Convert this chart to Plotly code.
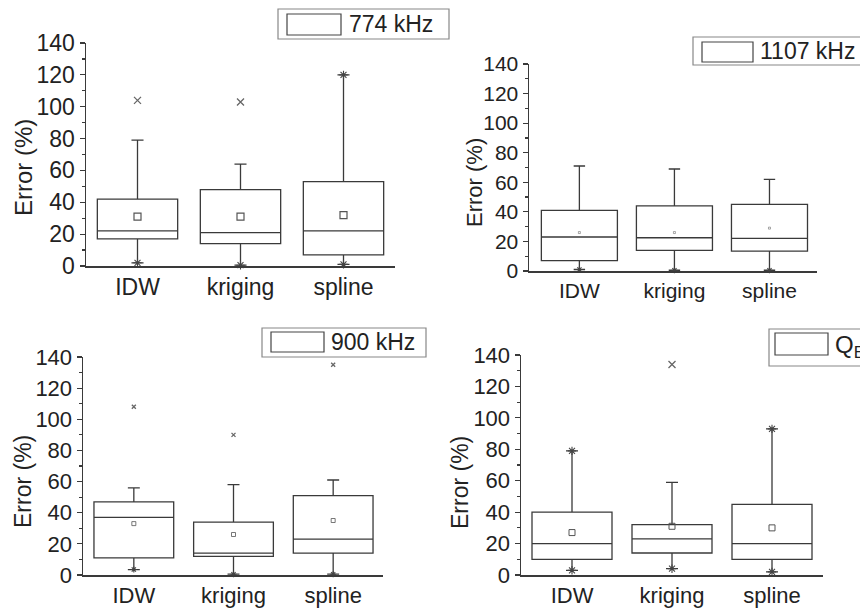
import plotly.graph_objects as go

W, H = 860, 609
FONT = "Liberation Sans, Arial, sans-serif"

categories = ["IDW", "kriging", "spline"]
cat_pos = [1, 2, 3]

# Panel 1: 774 kHz
p1_q1 = [17, 14, 7]
p1_med = [22, 21, 22]
p1_q3 = [42, 48, 53]
p1_lo = [2, 0.5, 1]
p1_hi = [79, 64, 120]
p1_mean = [31, 31, 32]
p1_out_x = [1, 2]
p1_out_y = [104, 103]

# Panel 2: 1107 kHz
p2_q1 = [7, 14, 13.5]
p2_med = [23, 22.5, 22]
p2_q3 = [41, 44, 45]
p2_lo = [1, 0.5, 0.5]
p2_hi = [71, 69, 62]
p2_mean = [26, 26, 29]
p2_out_x = []
p2_out_y = []

# Panel 3: 900 kHz
p3_q1 = [11, 12, 14]
p3_med = [37, 14, 23]
p3_q3 = [47, 34, 51]
p3_lo = [3.5, 0.5, 0.5]
p3_hi = [56, 58, 61]
p3_mean = [33, 26, 35]
p3_out_x = [1, 2, 3]
p3_out_y = [108, 90, 135]

# Panel 4: Q_E
p4_q1 = [10, 14, 10]
p4_med = [20, 23, 20]
p4_q3 = [40, 32, 45]
p4_lo = [3, 4, 2]
p4_hi = [79, 59, 93]
p4_mean = [27, 31, 30]
p4_out_x = [2]
p4_out_y = [134]

y_ticks = [0, 20, 40, 60, 80, 100, 120, 140]

def px(x):
    return x / W

def py(y):
    return 1 - y / H

panels = [
    dict(q1=p1_q1, med=p1_med, q3=p1_q3, lo=p1_lo, hi=p1_hi, mean=p1_mean,
         ox=p1_out_x, oy=p1_out_y, xd=(86, 395), yd=(43, 266), xr=[0.5, 3.5], bw=0.78,
         fs=23, tfs=24, mean_size=7, mean_w=1.2, out_size=7, star_size=7,
         star_ends=[(0, "lo"), (1, "lo"), (2, "hi"), (2, "lo")],
         title_xy=(23, 168), name="774 kHz",
         leg=dict(box=(278, 9, 449, 39), sw=(287, 14, 341, 35), tx=(347, 24), fs=23)),
    dict(q1=p2_q1, med=p2_med, q3=p2_q3, lo=p2_lo, hi=p2_hi, mean=p2_mean,
         ox=p2_out_x, oy=p2_out_y, xd=(529, 817), yd=(64, 271), xr=[0.47, 3.5], bw=0.8,
         fs=21, tfs=22, mean_size=2, mean_w=0.5, out_size=6, star_size=5,
         star_ends=[(0, "lo"), (1, "lo"), (2, "lo")],
         title_xy=(474, 182), name="1107 kHz",
         leg=dict(box=(693, 37, 875, 65), sw=(702, 42, 753, 62), tx=(758, 51), fs=23)),
    dict(q1=p3_q1, med=p3_med, q3=p3_q3, lo=p3_lo, hi=p3_hi, mean=p3_mean,
         ox=p3_out_x, oy=p3_out_y, xd=(83, 383), yd=(357, 575), xr=[0.49, 3.5], bw=0.8,
         fs=22, tfs=23, mean_size=4, mean_w=0.8, out_size=4, star_size=5,
         star_ends=[(0, "lo"), (1, "lo"), (2, "lo")],
         title_xy=(23, 482), name="900 kHz",
         leg=dict(box=(262, 328, 426, 357), sw=(271, 332, 324, 352), tx=(329, 342), fs=23)),
    dict(q1=p4_q1, med=p4_med, q3=p4_q3, lo=p4_lo, hi=p4_hi, mean=p4_mean,
         ox=p4_out_x, oy=p4_out_y, xd=(521, 823), yd=(355, 575), xr=[0.49, 3.51], bw=0.8,
         fs=22, tfs=23, mean_size=6, mean_w=1.0, out_size=7, star_size=7,
         star_ends=[(0, "hi"), (0, "lo"), (1, "lo"), (2, "hi"), (2, "lo")],
         title_xy=(460, 482), name="Q<sub>E</sub>",
         leg=dict(box=(769, 329, 880, 366), sw=(775, 333, 828, 355), tx=(833, 346), fs=24)),
]

fig = go.Figure()
shapes = []
annotations = []
LINE = "#3a3a3a"

for i, p in enumerate(panels, start=1):
    xa = "x" if i == 1 else f"x{i}"
    ya = "y" if i == 1 else f"y{i}"
    fig.add_trace(go.Box(
        x=cat_pos, q1=p["q1"], median=p["med"], q3=p["q3"],
        lowerfence=p["lo"], upperfence=p["hi"],
        width=p["bw"], whiskerwidth=0.15, boxpoints=False,
        fillcolor="white", line=dict(color=LINE, width=1.3),
        xaxis=xa, yaxis=ya, showlegend=False, hoverinfo="skip",
    ))
    fig.add_trace(go.Scatter(
        x=cat_pos, y=p["mean"], mode="markers",
        marker=dict(symbol="square-open", size=p["mean_size"], color="#555",
                    line=dict(width=p["mean_w"])),
        xaxis=xa, yaxis=ya, showlegend=False, cliponaxis=False,
    ))
    if p["ox"]:
        fig.add_trace(go.Scatter(
            x=p["ox"], y=p["oy"], mode="markers",
            marker=dict(symbol="x-thin-open", size=p["out_size"], color="#666",
                        line=dict(width=1.3, color="#666")),
            xaxis=xa, yaxis=ya, showlegend=False, cliponaxis=False,
        ))
    sx = [cat_pos[k] for k, _ in p["star_ends"]]
    sy = [p[w][k] for k, w in p["star_ends"]]
    fig.add_trace(go.Scatter(
        x=sx, y=sy, mode="markers",
        marker=dict(symbol="asterisk-open", size=p["star_size"], color="#444",
                    line=dict(width=1.1, color="#444")),
        xaxis=xa, yaxis=ya, showlegend=False, cliponaxis=False,
    ))

    xkey = "xaxis" if i == 1 else f"xaxis{i}"
    ykey = "yaxis" if i == 1 else f"yaxis{i}"
    fig.layout[xkey] = dict(
        domain=[px(p["xd"][0]), px(p["xd"][1])], anchor=ya, range=p["xr"],
        tickvals=cat_pos, ticktext=categories, ticks="", showgrid=False, zeroline=False,
        showline=True, linecolor=LINE, linewidth=1.5, automargin=False,
        tickfont=dict(family=FONT, size=p["fs"], color="#222"),
    )
    fig.layout[ykey] = dict(
        domain=[py(p["yd"][1]), py(p["yd"][0])], anchor=xa, range=[0, 140],
        tickvals=y_ticks, ticks="outside", ticklen=5, tickwidth=1.2, tickcolor=LINE,
        minor=dict(dtick=10, ticks="outside", ticklen=3, tickcolor=LINE),
        showgrid=False, zeroline=False, showline=True, linecolor=LINE, linewidth=1.5,
        automargin=False,
        tickfont=dict(family=FONT, size=p["fs"], color="#222"),
    )
    annotations.append(dict(
        x=px(p["title_xy"][0]), y=py(p["title_xy"][1]), xref="paper", yref="paper",
        xanchor="center", yanchor="middle",
        text="Error (%)", textangle=-90, showarrow=False,
        font=dict(family=FONT, size=p["tfs"], color="#222"),
    ))
    lg = p["leg"]
    b = lg["box"]
    shapes.append(dict(type="rect", xref="paper", yref="paper",
                       x0=px(b[0]), x1=px(b[2]), y0=py(b[3]), y1=py(b[1]),
                       line=dict(color="#888", width=1.2), fillcolor="white", layer="below"))
    s = lg["sw"]
    shapes.append(dict(type="rect", xref="paper", yref="paper",
                       x0=px(s[0]), x1=px(s[2]), y0=py(s[3]), y1=py(s[1]),
                       line=dict(color="#444", width=1.2), fillcolor="white"))
    annotations.append(dict(
        x=px(lg["tx"][0]), y=py(lg["tx"][1]), xref="paper", yref="paper",
        xanchor="left", yanchor="middle", text=p["name"], showarrow=False,
        font=dict(family=FONT, size=lg["fs"], color="#222"),
    ))

fig.update_layout(
    width=W, height=H, margin=dict(l=0, r=0, t=0, b=0, autoexpand=False),
    paper_bgcolor="white", plot_bgcolor="white",
    shapes=shapes, annotations=annotations, showlegend=False,
)

fig.write_html(
    "out.html",
    config={"displayModeBar": False, "staticPlot": True},
    post_script="document.body.style.margin='0';document.body.style.overflow='hidden';",
)
